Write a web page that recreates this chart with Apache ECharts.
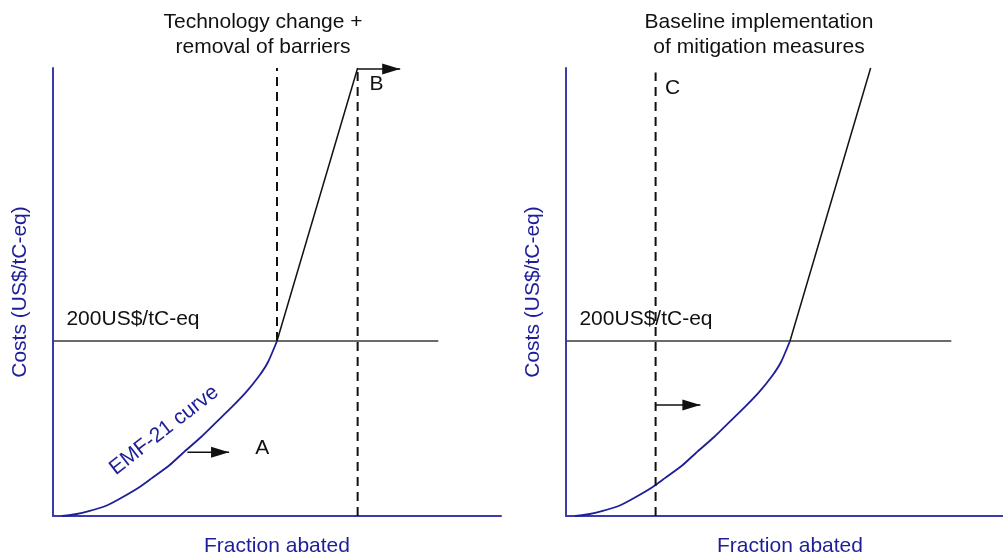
<!DOCTYPE html>
<html>
<head>
<meta charset="utf-8">
<script src="https://cdn.jsdelivr.net/npm/echarts@6/dist/echarts.min.js"></script>
<style>html,body{margin:0;padding:0;background:#fff}#c{width:1003px;height:556px}</style>
</head>
<body>
<div id="c"></div>
<script>
// ---- data ----
const panelTitles = ['Technology change +\nremoval of barriers', 'Baseline implementation\nof mitigation measures'];
const xAxisName = 'Fraction abated';
const yAxisName = 'Costs (US$/tC-eq)';
const thresholdLabel = '200US$/tC-eq';
const curveLabel = 'EMF-21 curve';
// EMF-21 marginal abatement cost curve (fraction abated, cost)
const curveX = [2, 5, 8, 12, 15, 19, 22, 26, 29, 33, 36, 40, 43, 46, 48, 50];
const curveY = [0, 2, 5.5, 12, 20, 32, 43, 58, 72, 90, 105, 125, 141, 160, 176, 200];
// steep segment above the 200 US$ threshold
const steepX = [50, 68];
const steepY = [200, 512];
// threshold line
const thresholdX = [0, 86];
const thresholdY = 200;
// dashed verticals
const dashLeft1X = 50, dashLeft1Y = [200, 512];
const dashLeft2X = 68, dashLeft2Y = [0, 512];
const dashRightX = 20, dashRightY = [0, 507];
// arrows (start x, end x, y)
const arrowA = [30, 39.3, 73];
const arrowB = [68, 77.5, 511];
const arrowC = [20, 30, 127];
// letter labels [x, y]
const labelA = [46.7, 77];
const labelB = [72.2, 494];
const labelC = [23.8, 489];
const thresholdLabelPos = [3, 225];
const curveLabelPos = [24.8, 98];
const xMax = 100, yMax = 512;

// ---- styles ----
const FONT = "'Liberation Sans', Arial, sans-serif";
const BLUE_AXIS = '#3b3bab';
const BLUE = '#1e1e98';
const BLACK = '#111';

function zipXY(xs, ys) { return xs.map((x, i) => [x, ys[i]]); }

function lineSeries(idx, data, opts) {
  return Object.assign({
    type: 'line', xAxisIndex: idx, yAxisIndex: idx, data: data,
    symbol: 'none', silent: true, z: 3,
    lineStyle: { color: BLACK, width: 1.5 }
  }, opts || {});
}
function arrowSeries(idx, a) {
  return {
    type: 'line', xAxisIndex: idx, yAxisIndex: idx, silent: true, z: 4,
    showSymbol: true,
    lineStyle: { color: BLACK, width: 1.5 },
    itemStyle: { color: BLACK, opacity: 1 },
    data: [
      { value: [a[0], a[2]], symbol: 'none' },
      { value: [a[1], a[2]], symbol: 'path://M0,0L18,5.5L0,11Z', symbolSize: [18, 11], symbolOffset: [-9, 0] }
    ]
  };
}
function textSeries(idx, pos, text, opts) {
  return {
    type: 'scatter', xAxisIndex: idx, yAxisIndex: idx, silent: true, z: 5,
    symbolSize: 0,
    itemStyle: { opacity: 1 },
    data: [pos],
    label: Object.assign({
      show: true, formatter: text, position: [0, 0],
      align: 'center', verticalAlign: 'middle', opacity: 1,
      fontFamily: FONT, fontSize: 21, color: BLACK
    }, opts || {})
  };
}
function xAx(idx) {
  return {
    type: 'value', gridIndex: idx, min: 0, max: xMax,
    name: xAxisName, nameLocation: 'middle', nameGap: 20,
    nameTextStyle: { color: BLUE, fontSize: 21, fontFamily: FONT },
    axisLine: { show: true, lineStyle: { color: BLUE_AXIS, width: 2 } },
    axisTick: { show: false }, axisLabel: { show: false }, splitLine: { show: false }
  };
}
function yAx(idx) {
  return {
    type: 'value', gridIndex: idx, min: 0, max: yMax,
    name: yAxisName, nameLocation: 'middle', nameGap: 22,
    nameTextStyle: { color: BLUE, fontSize: 21, fontFamily: FONT },
    axisLine: { show: true, lineStyle: { color: BLUE_AXIS, width: 2 } },
    axisTick: { show: false }, axisLabel: { show: false }, splitLine: { show: false }
  };
}

const curveData = zipXY(curveX, curveY);
const steepData = zipXY(steepX, steepY);
const thresholdData = thresholdX.map(x => [x, thresholdY]);
const dashStyle = { color: BLACK, width: 2, type: [9, 6] };

const series = [];
[0, 1].forEach(function (g) {
  series.push(lineSeries(g, thresholdData, { lineStyle: { color: '#3a3a3a', width: 1.5 } }));
  series.push(lineSeries(g, curveData, { smooth: 0.2, lineStyle: { color: BLUE, width: 1.8 } }));
  series.push(lineSeries(g, steepData));
  series.push(textSeries(g, thresholdLabelPos, thresholdLabel, { align: 'left' }));
});
// left panel extras
series.push(lineSeries(0, dashLeft1Y.map(y => [dashLeft1X, y]), { lineStyle: dashStyle }));
series.push(lineSeries(0, dashLeft2Y.map(y => [dashLeft2X, y]), { lineStyle: dashStyle }));
series.push(arrowSeries(0, arrowA));
series.push(arrowSeries(0, arrowB));
series.push(textSeries(0, labelA, 'A'));
series.push(textSeries(0, labelB, 'B'));
series.push(textSeries(0, curveLabelPos, curveLabel, { color: BLUE, rotate: 38 }));
// right panel extras
series.push(lineSeries(1, dashRightY.map(y => [dashRightX, y]), { lineStyle: dashStyle }));
series.push(arrowSeries(1, arrowC));
series.push(textSeries(1, labelC, 'C'));

const chart = echarts.init(document.getElementById('c'), null, { renderer: 'canvas' });
chart.setOption({
  animation: false,
  backgroundColor: '#fff',
  grid: [
    { left: 53, top: 68, width: 448, height: 448, outerBoundsMode: 'none', containLabel: false },
    { left: 566, top: 68, width: 448, height: 448, outerBoundsMode: 'none', containLabel: false }
  ],
  xAxis: [xAx(0), xAx(1)],
  yAxis: [yAx(0), yAx(1)],
  graphic: [
    { type: 'text', x: 263, y: 10, silent: true,
      style: { text: panelTitles[0], align: 'center', textAlign: 'center', fill: BLACK, font: "21px 'Liberation Sans', Arial, sans-serif", lineHeight: 25 } },
    { type: 'text', x: 759, y: 10, silent: true,
      style: { text: panelTitles[1], align: 'center', textAlign: 'center', fill: BLACK, font: "21px 'Liberation Sans', Arial, sans-serif", lineHeight: 25 } }
  ],
  series: series
});
</script>
</body>
</html>
